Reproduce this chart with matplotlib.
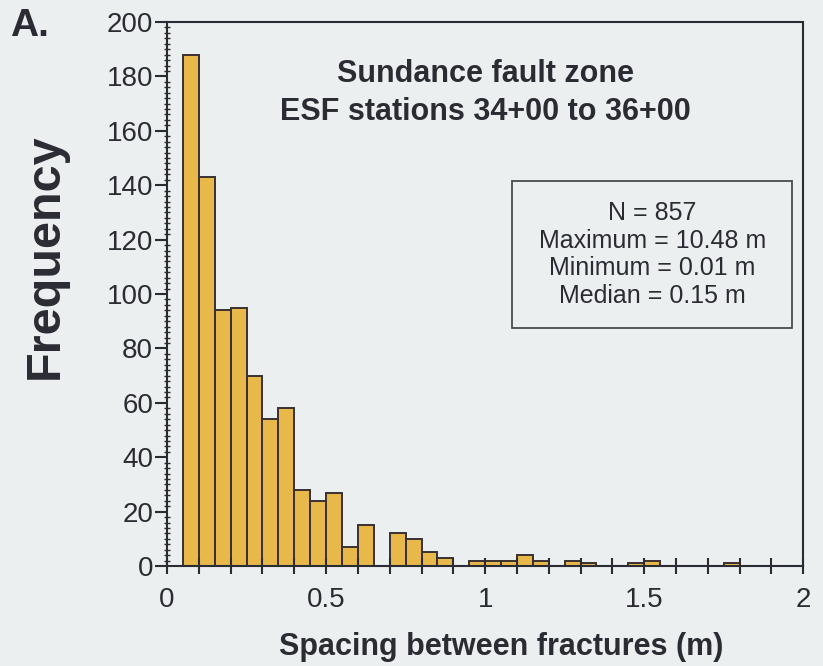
import matplotlib
matplotlib.use("Agg")
from matplotlib import pyplot as plt
from matplotlib.patches import Rectangle
from matplotlib.ticker import MultipleLocator

# histogram: left edge of each 0.05 m bin and its count
bin_left = [0.05, 0.10, 0.15, 0.20, 0.25, 0.30, 0.35, 0.40, 0.45, 0.50,
            0.55, 0.60, 0.65, 0.70, 0.75, 0.80, 0.85, 0.90, 0.95, 1.00,
            1.05, 1.10, 1.15, 1.20, 1.25, 1.30, 1.35, 1.40, 1.45, 1.50,
            1.55, 1.60, 1.65, 1.70, 1.75]
counts = [188, 143, 94, 95, 70, 54, 58, 28, 24, 27,
          7, 15, 0, 12, 10, 5, 3, 0, 2, 2,
          2, 4, 2, 0, 2, 1, 0, 0, 1, 2,
          0, 0, 0, 0, 1]
bin_width = 0.05

x_ticks = [0, 0.5, 1, 1.5, 2]
x_tick_labels = ["0", "0.5", "1", "1.5", "2"]
y_ticks = [0, 20, 40, 60, 80, 100, 120, 140, 160, 180, 200]

stats_lines = ["N = 857", "Maximum = 10.48 m", "Minimum = 0.01 m", "Median = 0.15 m"]

bg = "#eceff0"
ink = "#2b2b33"
bar_color = "#e8b84a"

plt.rcParams["font.family"] = ["Liberation Sans", "DejaVu Sans"]

fig = plt.figure(figsize=(8.23, 6.66), dpi=100, facecolor=bg)
ax = fig.add_axes([0.203, 0.150, 0.773, 0.817], facecolor=bg)

ax.bar(bin_left, counts, width=bin_width, align="edge", color=bar_color,
       edgecolor="#3a3030", linewidth=1.4)

ax.set_xlim(0, 2)
ax.set_ylim(0, 200)
ax.set_xticks(x_ticks)
ax.set_xticklabels(x_tick_labels)
ax.set_yticks(y_ticks)
ax.xaxis.set_minor_locator(MultipleLocator(0.1))
ax.yaxis.set_minor_locator(MultipleLocator(2))

for s in ax.spines.values():
    s.set_color(ink)
    s.set_linewidth(1.5)

ax.tick_params(axis="x", which="major", direction="inout", length=12, width=1.5,
               colors=ink, labelsize=20, pad=9)
ax.tick_params(axis="x", which="minor", direction="inout", length=12, width=1.5, colors=ink)
ax.tick_params(axis="y", which="major", direction="out", length=9, width=1.5,
               colors=ink, labelsize=20, pad=1)
ax.tick_params(axis="y", which="minor", direction="inout", length=5, width=1.0, colors=ink)

ax.text(0.5, 0.869, "Sundance fault zone\nESF stations 34+00 to 36+00",
        transform=ax.transAxes, ha="center", va="center", fontsize=22,
        fontweight="bold", color=ink, linespacing=1.35)

ax.add_patch(Rectangle((0.5425, 0.4375), 0.4405, 0.2702, transform=ax.transAxes,
                       fill=False, edgecolor="#4a4a50", linewidth=1.3))
ax.text(0.7626, 0.5726, "\n".join(stats_lines), transform=ax.transAxes,
        ha="center", va="center", fontsize=18, color=ink, linespacing=1.19)

fig.text(45 / 823, 1 - 256 / 666, "Frequency", rotation=90, ha="center",
         va="center", fontsize=35, fontweight="bold", color=ink)
fig.text(501 / 823, 1 - 647 / 666, "Spacing between fractures (m)", ha="center",
         va="center", fontsize=22, fontweight="bold", color=ink)
fig.text(29 / 823, 1 - 26 / 666, "A.", ha="center", va="center", fontsize=28,
         fontweight="bold", color=ink)

fig.savefig("out.png", dpi=100, facecolor=bg)
